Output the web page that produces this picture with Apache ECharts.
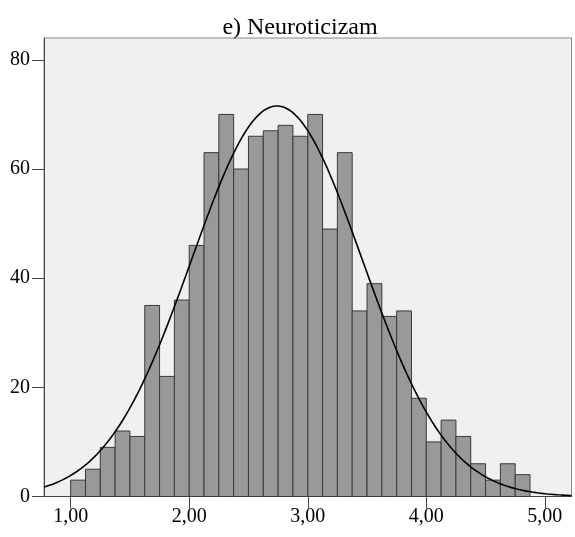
<!DOCTYPE html>
<html>
<head>
<meta charset="utf-8">
<script src="https://cdn.jsdelivr.net/npm/echarts@6/dist/echarts.min.js"></script>
<style>
html,body{margin:0;padding:0;background:#fff;}
#chart{width:575px;height:537px;}
</style>
</head>
<body>
<div id="chart"></div>
<script>
// Histogram data
const titleText = 'e) Neuroticizam';
const binStart = 1.0;
const binWidth = 0.125;
const counts = [3,5,9,12,11,35,22,36,46,63,70,60,66,67,68,66,70,49,63,34,39,33,34,18,10,14,11,6,3,6,4];
const xTicks = [1, 2, 3, 4, 5];
const yTicks = [0, 20, 40, 60, 80];
// Normal curve parameters
const curveMean = 2.74;
const curveSD = 0.72;
const xMin = 0.775, xMax = 5.225;
const yMin = 0, yMax = 84;

const N = counts.reduce((a, b) => a + b, 0);
const histData = counts.map((c, i) => [binStart + i * binWidth, binStart + (i + 1) * binWidth, c]);
const curveData = [];
const steps = 200;
for (let i = 0; i <= steps; i++) {
  const x = xMin + (xMax - xMin) * i / steps;
  const z = (x - curveMean) / curveSD;
  curveData.push([x, N * binWidth / (curveSD * Math.sqrt(2 * Math.PI)) * Math.exp(-0.5 * z * z)]);
}

const font = '"Liberation Serif", "Times New Roman", serif';
const chart = echarts.init(document.getElementById('chart'), null, {renderer: 'canvas'});
chart.setOption({
  animation: false,
  backgroundColor: '#ffffff',
  title: {
    text: titleText,
    left: 295,
    textAlign: 'center',
    top: 11,
    textStyle: {fontFamily: font, fontSize: 24, fontWeight: 'normal', color: '#000'}
  },
  grid: {
    left: 44, right: 3.5, top: 38, bottom: 40.5,
    show: true, backgroundColor: '#f0f0f0', borderColor: '#888', borderWidth: 1
  },
  xAxis: {
    type: 'value', min: xMin, max: xMax,
    axisLine: {show: true, onZero: false, lineStyle: {color: '#444', width: 1}},
    axisTick: {show: true, length: 12, customValues: xTicks, lineStyle: {color: '#444'}},
    axisLabel: {customValues: xTicks, margin: 10, fontFamily: font, fontSize: 20, color: '#000',
      formatter: v => v.toFixed(2).replace('.', ',')},
    splitLine: {show: false}
  },
  yAxis: {
    type: 'value', min: yMin, max: yMax,
    axisLine: {show: true, lineStyle: {color: '#444', width: 1}},
    axisTick: {show: true, length: 12, customValues: yTicks, lineStyle: {color: '#444'}},
    axisLabel: {customValues: yTicks, margin: 14, fontFamily: font, fontSize: 20, color: '#000'},
    splitLine: {show: false}
  },
  series: [
    {
      type: 'custom',
      data: histData,
      encode: {x: [0, 1], y: 2},
      renderItem: function (params, api) {
        const p0 = api.coord([api.value(0), 0]);
        const p1 = api.coord([api.value(1), api.value(2)]);
        return {
          type: 'rect',
          shape: {x: p0[0], y: p1[1], width: p1[0] - p0[0], height: p0[1] - p1[1]},
          style: {fill: '#999999', stroke: '#3a3a3a', lineWidth: 1}
        };
      },
      z: 2
    },
    {
      type: 'line',
      data: curveData,
      showSymbol: false,
      smooth: false,
      lineStyle: {color: '#000', width: 1.6},
      z: 3
    }
  ]
});
</script>
</body>
</html>
